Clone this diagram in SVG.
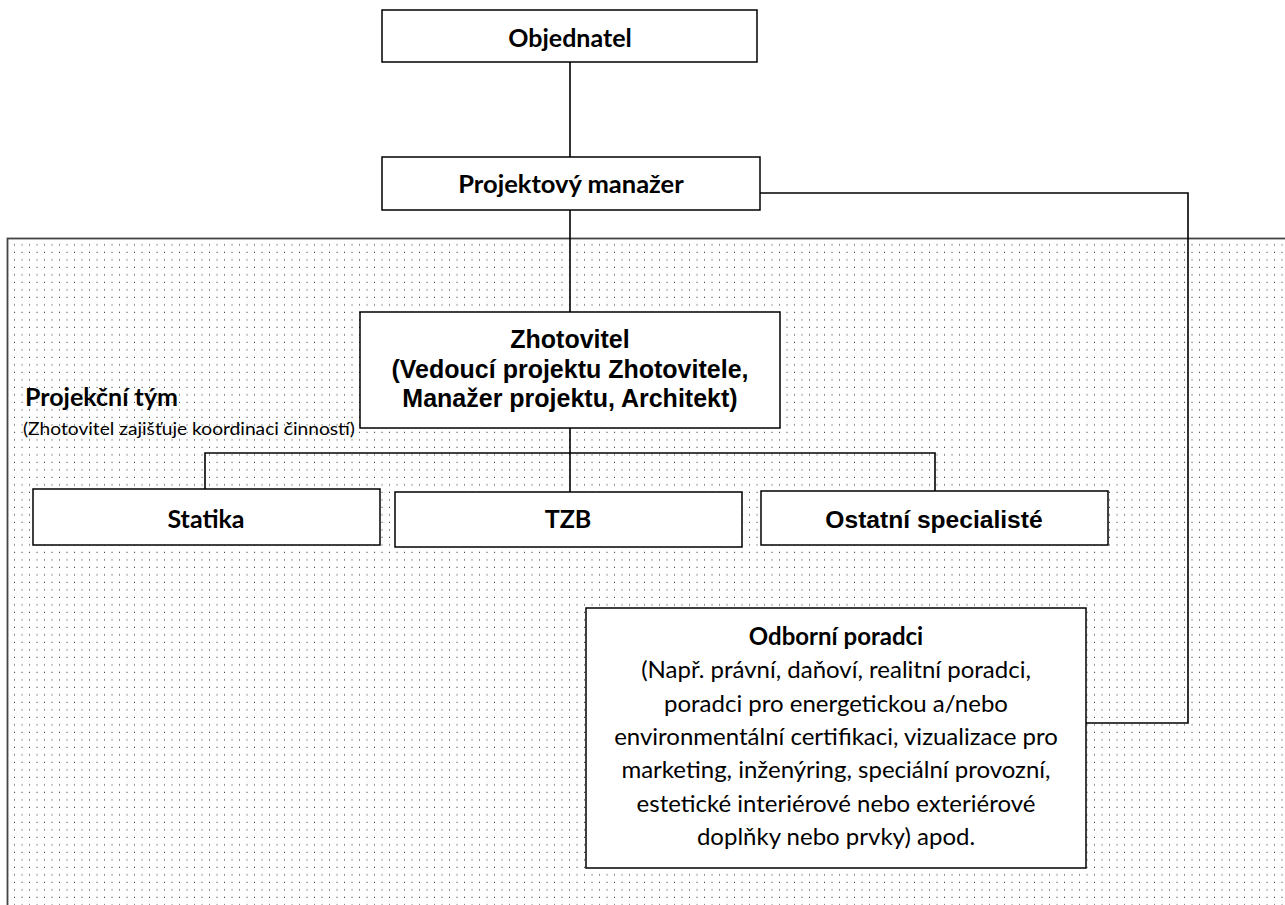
<svg xmlns="http://www.w3.org/2000/svg" width="1285" height="905" viewBox="0 0 1285 905">
<style>
.box{fill:#fff;stroke:#000;stroke-width:1.5}
.con{fill:none;stroke:#000;stroke-width:1.6}
.cal{font-family:Lato,"Open Sans",sans-serif;fill:#000}
.ari{font-family:"Liberation Sans",Arial,sans-serif;font-weight:bold;fill:#000}
.b{font-weight:bold}
</style>
<defs>
<pattern id="dots" patternUnits="userSpaceOnUse" x="7.5" y="238" width="7.5" height="7.5">
<rect x="6.8" y="6.3" width="1.8" height="1.8" fill="#000"/>
</pattern>
</defs>
<rect x="0" y="0" width="1285" height="905" fill="#fff"/>
<g id="team-region">
<rect x="7.5" y="238.5" width="1290" height="680" fill="url(#dots)" stroke="#444" stroke-width="1.8"/>
<text class="cal b" x="25" y="406" font-size="25">Projekční tým</text>
<text class="cal" x="23" y="435" font-size="18" textLength="332" lengthAdjust="spacingAndGlyphs">(Zhotovitel zajišťuje koordinaci činností)</text>
</g>
<g id="connectors">
<line class="con" x1="570" y1="62" x2="570" y2="157"/>
<line class="con" x1="570" y1="210" x2="570" y2="312"/>
<line class="con" x1="570" y1="428" x2="570" y2="492"/>
<polyline class="con" points="205,489 205,453 935,453 935,491"/>
<polyline class="con" points="760,193 1188,193 1188,723 1086,723"/>
</g>
<g id="objednatel">
<rect class="box" x="382" y="10" width="375" height="52"/>
<text class="cal b" x="570" y="47" font-size="25" text-anchor="middle">Objednatel</text>
</g>
<g id="projektovy-manazer">
<rect class="box" x="382" y="157" width="378" height="53"/>
<text class="cal b" x="571" y="193" font-size="25.5" text-anchor="middle">Projektový manažer</text>
</g>
<g id="zhotovitel">
<rect class="box" x="360" y="312" width="420" height="116"/>
<text class="ari" x="570" y="348" font-size="25" text-anchor="middle">Zhotovitel</text>
<text class="ari" x="570" y="378" font-size="25" text-anchor="middle">(Vedoucí projektu Zhotovitele,</text>
<text class="ari" x="570" y="407" font-size="25" text-anchor="middle">Manažer projektu, Architekt)</text>
</g>
<g id="statika">
<rect class="box" x="33" y="489" width="347" height="56"/>
<text class="cal b" x="206" y="528" font-size="25" text-anchor="middle">Statika</text>
</g>
<g id="tzb">
<rect class="box" x="395" y="492" width="347" height="55"/>
<text class="cal b" x="568" y="528" font-size="25" text-anchor="middle">TZB</text>
</g>
<g id="ostatni">
<rect class="box" x="761" y="491" width="347" height="54"/>
<text class="ari" x="934" y="528" font-size="24.6" text-anchor="middle">Ostatní specialisté</text>
</g>
<g id="odborni-poradci">
<rect class="box" x="586" y="608" width="500" height="260"/>
<g class="cal" font-size="24" text-anchor="middle">
<text class="b" x="836" y="645">Odborní poradci</text>
<text x="836" y="678">(Např. právní, daňoví, realitní poradci,</text>
<text x="836" y="712">poradci pro energetickou a/nebo</text>
<text x="836" y="745">environmentální certifikaci, vizualizace pro</text>
<text x="836" y="778">marketing, inženýring, speciální provozní,</text>
<text x="836" y="812">estetické interiérové nebo exteriérové</text>
<text x="836" y="845">doplňky nebo prvky) apod.</text>
</g>
</g>
</svg>
